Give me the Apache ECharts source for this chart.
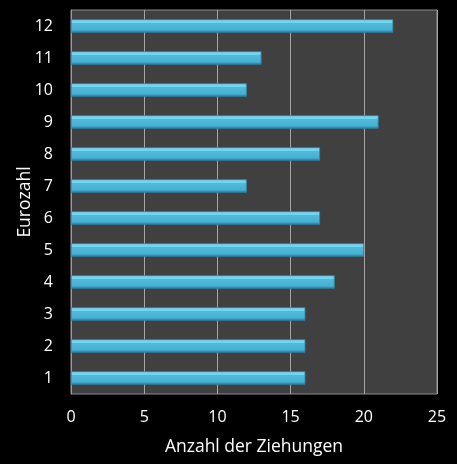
<!DOCTYPE html>
<html>
<head>
<meta charset="utf-8">
<script src="https://cdn.jsdelivr.net/npm/echarts@6/dist/echarts.min.js"></script>
<style>
  html, body { margin: 0; padding: 0; background: #000; }
  #chartContainer { width: 457px; height: 464px; }
</style>
</head>
<body>
<div id="chartContainer"></div>
<script>
'use strict';
// Eurozahl 1..12, number of draws
let categories = ['1', '2', '3', '4', '5', '6', '7', '8', '9', '10', '11', '12'];
let draws = [16, 16, 16, 18, 20, 17, 12, 17, 21, 12, 13, 22];
let xTicks = [0, 5, 10, 15, 20, 25];

let initChart = (function() {
    let chartContainer = document.getElementById('chartContainer');
    let demoChart = echarts.init(chartContainer);
    let font = ['Open Sans', 'Noto Sans', 'sans-serif'];

    let option = {
        backgroundColor: '#000000',
        grid: {
            left: 71,
            right: 20,
            top: 10,
            bottom: 70,
            outerBoundsMode: 'none',
            show: true,
            backgroundColor: '#404040',
            borderColor: '#8c8c8c',
            borderWidth: 1
        },
        xAxis: {
            type: 'value',
            min: xTicks[0],
            max: xTicks[xTicks.length - 1],
            interval: 5,
            name: 'Anzahl der Ziehungen',
            nameLocation: 'middle',
            nameGap: 44,
            nameMoveOverlap: false,
            nameTextStyle: {
                color: '#ffffff',
                fontSize: 17.5,
                fontFamily: font
            },
            axisLabel: {
                margin: 15,
                color: '#ffffff',
                fontSize: 16,
                fontFamily: font
            },
            axisLine: { show: false },
            axisTick: { show: false },
            splitLine: {
                lineStyle: {
                    color: '#a6a6a6',
                    width: 1
                }
            }
        },
        yAxis: {
            type: 'category',
            data: categories,
            name: 'Eurozahl',
            nameLocation: 'middle',
            nameGap: 37,
            nameMoveOverlap: false,
            nameTextStyle: {
                color: '#ffffff',
                fontSize: 17.5,
                fontFamily: font
            },
            axisLabel: {
                margin: 18,
                color: '#ffffff',
                fontSize: 16,
                fontFamily: font
            },
            axisLine: {
                lineStyle: {
                    color: '#9a9a9a',
                    width: 1
                }
            },
            axisTick: { show: false },
            splitLine: { show: false }
        },
        series: [{
            name: 'Ziehungen',
            type: 'bar',
            data: draws,
            barWidth: 13,
            itemStyle: {
                color: new echarts.graphic.LinearGradient(0, 0, 0, 1, [
                    { offset: 0, color: '#8fe0f5' },
                    { offset: 0.25, color: '#6cd0ee' },
                    { offset: 0.3, color: '#4fbadb' },
                    { offset: 0.8, color: '#45b0d2' },
                    { offset: 1, color: '#2a7f9c' }
                ]),
                borderColor: '#2f8aa6',
                borderWidth: 0.5
            }
        }]
    };

    demoChart.setOption(option);
})();
</script>
</body>
</html>
